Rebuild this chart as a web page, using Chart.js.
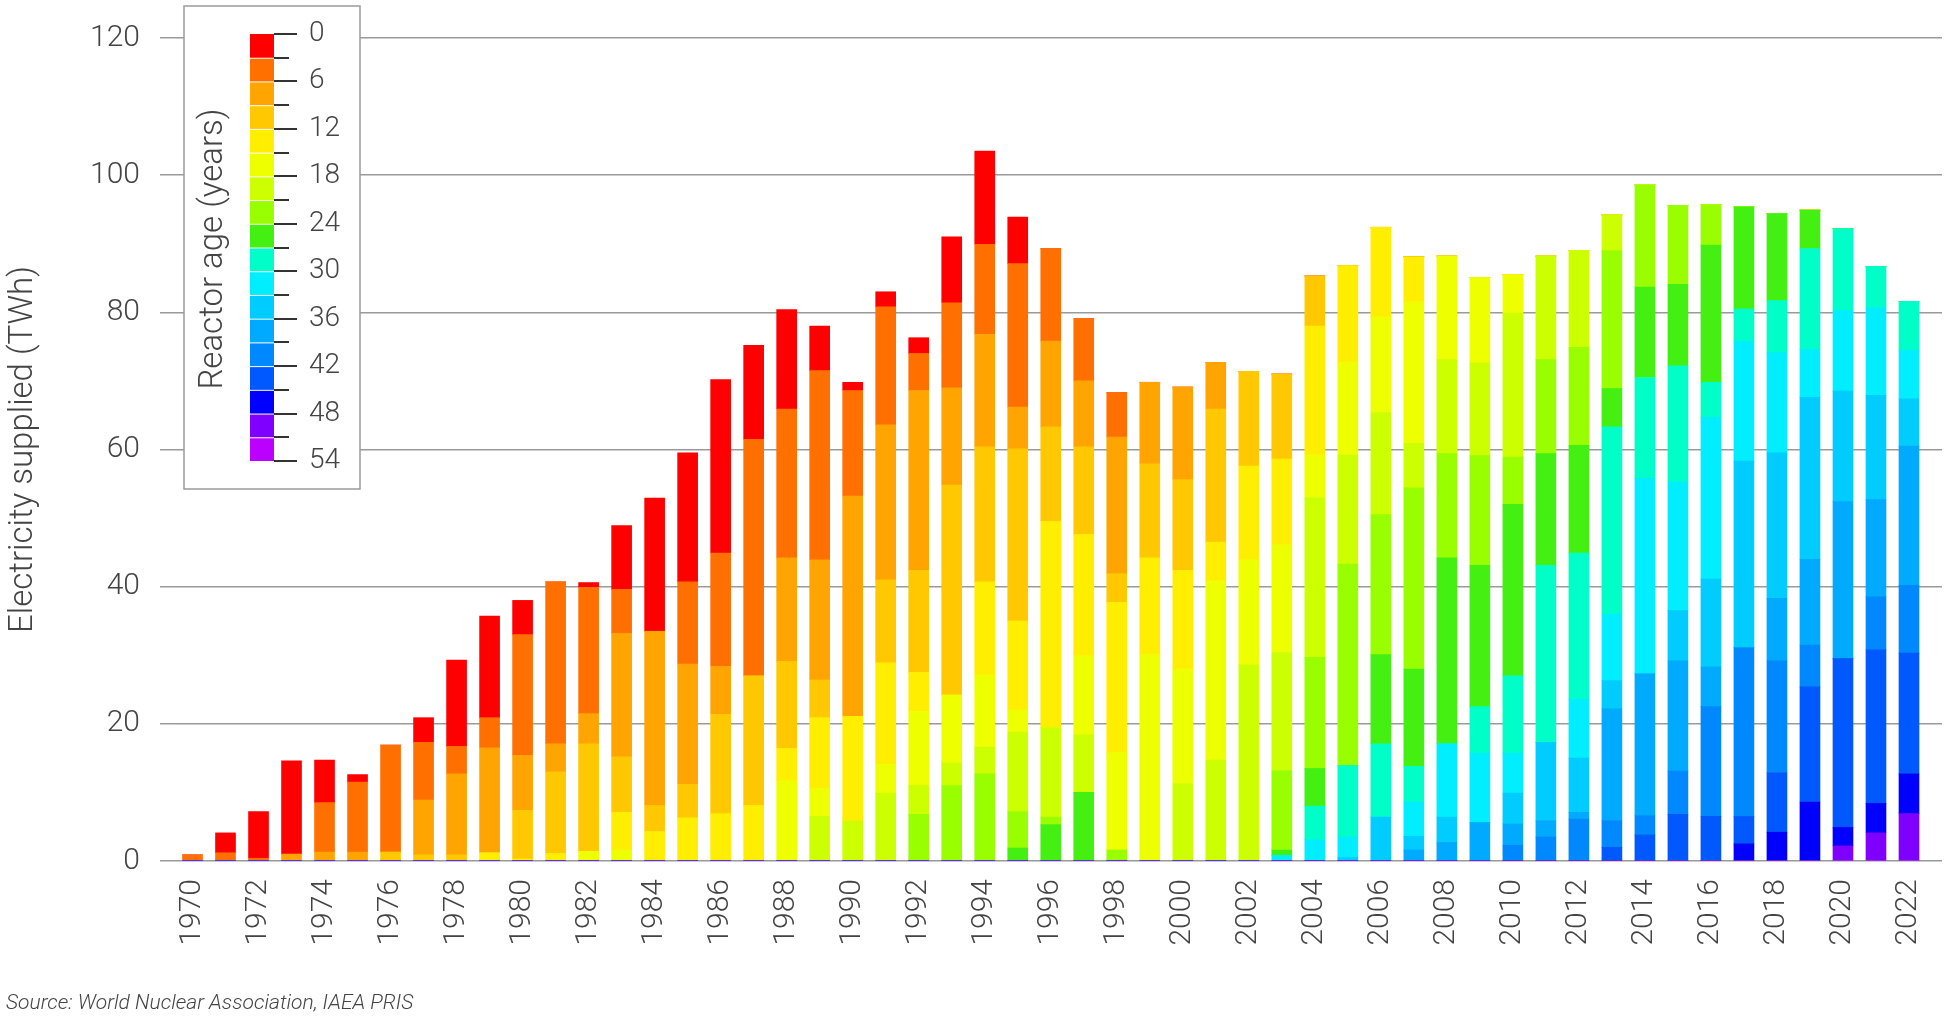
<!DOCTYPE html>
<html>
<head>
<meta charset="utf-8">
<script src="https://cdn.jsdelivr.net/npm/chart.js@4.4.1/dist/chart.umd.min.js"></script>
<style>
  body { margin: 0; background: #fff; }
  #wrap { width: 1949px; height: 1016px; }
</style>
</head>
<body>
<div id="wrap"><canvas id="myChart" width="1949" height="1016"></canvas></div>
<script>
const years = [
  1970, 1971, 1972, 1973, 1974, 1975, 1976, 1977, 1978, 1979,
  1980, 1981, 1982, 1983, 1984, 1985, 1986, 1987, 1988, 1989,
  1990, 1991, 1992, 1993, 1994, 1995, 1996, 1997, 1998, 1999,
  2000, 2001, 2002, 2003, 2004, 2005, 2006, 2007, 2008, 2009,
  2010, 2011, 2012, 2013, 2014, 2015, 2016, 2017, 2018, 2019,
  2020, 2021, 2022
];
const xTickLabels = [1970, 1972, 1974, 1976, 1978, 1980, 1982, 1984, 1986, 1988, 1990, 1992, 1994,
  1996, 1998, 2000, 2002, 2004, 2006, 2008, 2010, 2012, 2014, 2016, 2018, 2020, 2022];
const yTickLabels = [0, 20, 40, 60, 80, 100, 120];
const ageTickLabels = [0, 6, 12, 18, 24, 30, 36, 42, 48, 54];

// TWh supplied per year, by reactor age band (rows = decades 1970s ... 2020s)
const age0 = [
  0, 2.9, 6.8, 13.6, 6.2, 1.1, 0, 3.6, 12.6, 14.8,
  5.0, 0, 0.7, 9.3, 19.4, 18.8, 25.3, 13.7, 14.5, 6.5,
  1.2, 2.2, 2.3, 9.6, 13.6, 6.8, 0, 0, 0, 0,
  0, 0, 0, 0, 0, 0, 0, 0, 0, 0,
  0, 0, 0, 0, 0, 0, 0, 0, 0, 0,
  0, 0, 0];
const age3 = [
  0.9, 1.2, 0.4, 0, 7.2, 10.2, 15.6, 8.4, 4.0, 4.4,
  17.6, 23.6, 18.4, 6.4, 0, 12.0, 16.5, 34.5, 21.7, 27.6,
  15.4, 17.2, 5.4, 12.4, 13.1, 20.9, 13.5, 9.1, 6.5, 0,
  0, 0, 0, 0, 0, 0, 0, 0, 0, 0,
  0, 0, 0, 0, 0, 0, 0, 0, 0, 0,
  0, 0, 0];
const age6 = [
  0, 0, 0, 1.0, 1.3, 1.3, 0, 8.0, 11.8, 15.3,
  8.0, 4.1, 4.4, 18.0, 25.4, 17.5, 7.0, 0, 15.1, 17.5,
  32.1, 22.6, 26.2, 14.2, 16.4, 6.1, 12.5, 9.6, 19.9, 11.9,
  13.5, 6.8, 0, 0, 0, 0, 0, 0, 0, 0,
  0, 0, 0, 0, 0, 0, 0, 0, 0, 0,
  0, 0, 0];
const age9 = [
  0, 0, 0, 0, 0, 0, 1.3, 0.9, 0.9, 0,
  7.1, 11.9, 15.7, 8.1, 3.8, 4.9, 14.5, 18.9, 12.7, 5.5,
  0, 12.1, 14.9, 30.6, 19.7, 25.1, 13.8, 12.8, 4.2, 13.7,
  13.2, 19.4, 13.8, 12.4, 7.3, 0, 0, 0, 0, 0,
  0, 0, 0, 0, 0, 0, 0, 0, 0, 0,
  0, 0, 0];
const age12 = [
  0, 0, 0, 0, 0, 0, 0, 0, 0, 1.2,
  0.3, 1.1, 0, 5.5, 4.3, 6.3, 6.9, 8.1, 4.7, 10.3,
  15.3, 14.8, 5.7, 0, 13.6, 13.0, 30.1, 17.7, 21.9, 14.1,
  14.4, 5.7, 13.7, 12.5, 18.8, 14.1, 13.1, 6.6, 0, 0,
  0, 0, 0, 0, 0, 0, 0, 0, 0, 0,
  0, 0, 0];
const age15 = [
  0, 0, 0, 0, 0, 0, 0, 0, 0, 0,
  0, 0, 1.4, 1.6, 0, 0, 0, 0, 11.7, 4.1,
  0, 4.2, 10.8, 9.9, 10.5, 3.2, 0, 11.5, 14.2, 30.1,
  16.7, 26.1, 15.3, 15.7, 6.2, 13.5, 13.9, 20.6, 15.1, 12.5,
  5.6, 0, 0, 0, 0, 0, 0, 0, 0, 0,
  0, 0, 0];
const age18 = [
  0, 0, 0, 0, 0, 0, 0, 0, 0, 0,
  0, 0, 0, 0, 0, 0, 0, 0, 0, 6.5,
  5.8, 9.9, 4.2, 3.3, 3.9, 11.6, 13.0, 8.4, 0, 0,
  11.3, 14.7, 28.6, 17.2, 23.3, 15.9, 14.9, 6.5, 13.7, 13.5,
  21.0, 15.1, 14.1, 5.2, 0, 0, 0, 0, 0, 0,
  0, 0, 0];
const age21 = [
  0, 0, 0, 0, 0, 0, 0, 0, 0, 0,
  0, 0, 0, 0, 0, 0, 0, 0, 0, 0,
  0, 0, 6.8, 11.0, 12.7, 5.3, 1.1, 0, 1.6, 0,
  0, 0, 0, 11.6, 16.2, 29.4, 20.4, 26.4, 15.2, 16.0,
  6.9, 13.7, 14.3, 20.1, 14.9, 11.5, 5.9, 0, 0, 0,
  0, 0, 0];
const age24 = [
  0, 0, 0, 0, 0, 0, 0, 0, 0, 0,
  0, 0, 0, 0, 0, 0, 0, 0, 0, 0,
  0, 0, 0, 0, 0, 1.9, 5.3, 10.0, 0, 0,
  0, 0, 0, 0.8, 5.5, 0, 13.0, 14.2, 27.1, 20.6,
  25.0, 16.3, 15.7, 5.6, 13.2, 11.9, 20.0, 14.9, 12.7, 5.6,
  0, 0, 0];
const age27 = [
  0, 0, 0, 0, 0, 0, 0, 0, 0, 0,
  0, 0, 0, 0, 0, 0, 0, 0, 0, 0,
  0, 0, 0, 0, 0, 0, 0, 0, 0, 0,
  0, 0, 0, 0, 4.9, 10.4, 10.7, 5.2, 0, 6.8,
  11.3, 25.8, 21.3, 27.3, 14.7, 16.9, 5.1, 4.7, 7.6, 14.7,
  11.9, 6.0, 7.1];
const age30 = [
  0, 0, 0, 0, 0, 0, 0, 0, 0, 0,
  0, 0, 0, 0, 0, 0, 0, 0, 0, 0,
  0, 0, 0, 0, 0, 0, 0, 0, 0, 0,
  0, 0, 0, 0.8, 3.1, 3.0, 0, 5.0, 10.7, 10.1,
  5.8, 0, 8.6, 9.7, 28.5, 18.8, 23.6, 17.5, 14.6, 7.0,
  11.8, 12.8, 7.1];
const age33 = [
  0, 0, 0, 0, 0, 0, 0, 0, 0, 0,
  0, 0, 0, 0, 0, 0, 0, 0, 0, 0,
  0, 0, 0, 0, 0, 0, 0, 0, 0, 0,
  0, 0, 0, 0, 0, 0.5, 6.4, 2.0, 3.7, 0,
  4.5, 11.4, 7.9, 4.1, 0, 7.3, 12.8, 27.2, 21.2, 23.6,
  16.1, 15.2, 6.9];
const age36 = [
  0, 0, 0, 0, 0, 0, 0, 0, 0, 0,
  0, 0, 0, 0, 0, 0, 0, 0, 0, 0,
  0, 0, 0, 0, 0, 0, 0, 0, 0, 0,
  0, 0, 0, 0, 0, 0, 0, 1.6, 2.7, 5.6,
  3.1, 2.4, 1.0, 16.3, 20.7, 16.1, 5.8, 0, 9.1, 12.5,
  22.9, 14.2, 20.3];
const age39 = [
  0, 0, 0, 0, 0, 0, 0, 0, 0, 0,
  0, 0, 0, 0, 0, 0, 0, 0, 0, 0,
  0, 0, 0, 0, 0, 0, 0, 0, 0, 0,
  0, 0, 0, 0, 0, 0, 0, 0, 0, 0,
  2.3, 3.5, 6.1, 3.9, 2.8, 6.3, 16.0, 24.6, 16.3, 6.1,
  0, 7.7, 9.9];
const age42 = [
  0, 0, 0, 0, 0, 0, 0, 0, 0, 0,
  0, 0, 0, 0, 0, 0, 0, 0, 0, 0,
  0, 0, 0, 0, 0, 0, 0, 0, 0, 0,
  0, 0, 0, 0, 0, 0, 0, 0, 0, 0,
  0, 0, 0, 2.0, 3.8, 6.8, 6.5, 4.0, 8.7, 16.8,
  24.6, 22.4, 17.6];
const age45 = [
  0, 0, 0, 0, 0, 0, 0, 0, 0, 0,
  0, 0, 0, 0, 0, 0, 0, 0, 0, 0,
  0, 0, 0, 0, 0, 0, 0, 0, 0, 0,
  0, 0, 0, 0, 0, 0, 0, 0, 0, 0,
  0, 0, 0, 0, 0, 0, 0, 2.5, 4.2, 8.6,
  2.7, 4.3, 5.8];
const age48 = [
  0, 0, 0, 0, 0, 0, 0, 0, 0, 0,
  0, 0, 0, 0, 0, 0, 0, 0, 0, 0,
  0, 0, 0, 0, 0, 0, 0, 0, 0, 0,
  0, 0, 0, 0, 0, 0, 0, 0, 0, 0,
  0, 0, 0, 0, 0, 0, 0, 0, 0, 0,
  2.2, 4.1, 6.9];
const age51 = [
  0, 0, 0, 0, 0, 0, 0, 0, 0, 0,
  0, 0, 0, 0, 0, 0, 0, 0, 0, 0,
  0, 0, 0, 0, 0, 0, 0, 0, 0, 0,
  0, 0, 0, 0, 0, 0, 0, 0, 0, 0,
  0, 0, 0, 0, 0, 0, 0, 0, 0, 0,
  0, 0, 0];

const bandNames = ['0-3', '3-6', '6-9', '9-12', '12-15', '15-18', '18-21', '21-24', '24-27',
  '27-30', '30-33', '33-36', '36-39', '39-42', '42-45', '45-48', '48-51', '51-54'];
const bandValues = [age0, age3, age6, age9, age12, age15, age18, age21, age24,
  age27, age30, age33, age36, age39, age42, age45, age48, age51];
const bandColors = ['#ff0000', '#ff7000', '#ffa400', '#ffc800', '#ffee00', '#eeff00', '#ccff00',
  '#99ff00', '#44f011', '#00ffc8', '#00eeff', '#00ccff', '#00aaff', '#0088ff', '#0058ff',
  '#0000ff', '#7f00ff', '#bb00ff'];

const textGrey = '#444';
const mainFont = 'Roboto';

// oldest band first so it sits at the bottom of each stack
const datasets = bandValues.map((vals, i) => ({
  label: bandNames[i],
  data: vals.map((v, j) => ({ x: years[j], y: v })),
  backgroundColor: bandColors[i],
  borderWidth: 0,
  barThickness: 20
})).reverse();

const ageLegend = {
  id: 'ageLegend',
  afterDraw(chart) {
    const ctx = chart.ctx;
    ctx.save();
    ctx.fillStyle = '#fff';
    ctx.fillRect(184, 6, 176, 483);
    ctx.strokeStyle = '#9a9a9a';
    ctx.lineWidth = 1.5;
    ctx.strokeRect(184, 6, 176, 483);

    const top = 34, bottom = 461;
    const step = (bottom - top) / bandColors.length;
    bandColors.forEach((c, i) => {
      const gap = i ? 1 : 0;
      ctx.fillStyle = c;
      ctx.fillRect(250, top + i * step + gap, 24, step - gap);
    });

    ctx.strokeStyle = '#333';
    ctx.lineWidth = 2;
    for (let k = 0; k <= bandColors.length; k++) {
      const y = Math.round(top + k * step);
      ctx.beginPath();
      ctx.moveTo(274, y);
      ctx.lineTo(k % 2 === 0 ? 297 : 289, y);
      ctx.stroke();
    }

    ctx.fillStyle = textGrey;
    ctx.font = `300 28px ${mainFont}`;
    ctx.textAlign = 'left';
    ctx.textBaseline = 'middle';
    ageTickLabels.forEach((a, i) => {
      ctx.fillText(String(a), 309, top + i * 2 * step);
    });

    ctx.font = `300 33px ${mainFont}`;
    ctx.translate(214, 249);
    ctx.rotate(-Math.PI / 2);
    ctx.textAlign = 'center';
    ctx.fillText('Reactor age (years)', 0, 0);
    ctx.restore();

    ctx.save();
    ctx.fillStyle = textGrey;
    ctx.font = `italic 300 21px ${mainFont}`;
    ctx.textAlign = 'left';
    ctx.textBaseline = 'alphabetic';
    ctx.fillText('Source: World Nuclear Association, IAEA PRIS', 6, 1009);
    ctx.restore();
  }
};

const config = {
  type: 'bar',
  data: { datasets: datasets },
  options: {
    responsive: false,
    animation: false,
    devicePixelRatio: 1,
    layout: { padding: { top: 36, right: 7, left: 0, bottom: 0 } },
    plugins: { legend: { display: false }, tooltip: { enabled: false } },
    scales: {
      x: {
        type: 'linear',
        stacked: true,
        offset: false,
        bounds: 'data',
        min: 1969.5,
        max: 2023,
        grid: { display: false, drawTicks: false, offset: false },
        border: { display: false },
        afterBuildTicks: (s) => { s.ticks = xTickLabels.map(v => ({ value: v })); },
        ticks: {
          autoSkip: false,
          minRotation: 90,
          maxRotation: 90,
          padding: 18,
          color: textGrey,
          font: { family: mainFont, size: 30, weight: '300' },
          callback: (v) => String(v)
        },
        afterFit: (s) => {
          s.height = 155;
          s.paddingLeft = 0;
          s.paddingRight = 0;
        }
      },
      y: {
        stacked: true,
        min: 0,
        max: 120,
        afterBuildTicks: (s) => { s.ticks = yTickLabels.map(v => ({ value: v })); },
        ticks: {
          padding: 20,
          color: textGrey,
          font: { family: mainFont, size: 30, weight: '300' }
        },
        grid: { color: '#9a9a9a', lineWidth: 1.5, tickLength: 16 },
        border: { display: false },
        title: {
          display: true,
          text: 'Electricity supplied (TWh)',
          color: textGrey,
          font: { family: mainFont, size: 33, weight: '300' },
          padding: { top: 4, bottom: 0 }
        },
        afterFit: (s) => { s.width = 176; }
      }
    }
  },
  plugins: [ageLegend]
};

const myChart = new Chart(document.getElementById('myChart'), config);
</script>
</body>
</html>
